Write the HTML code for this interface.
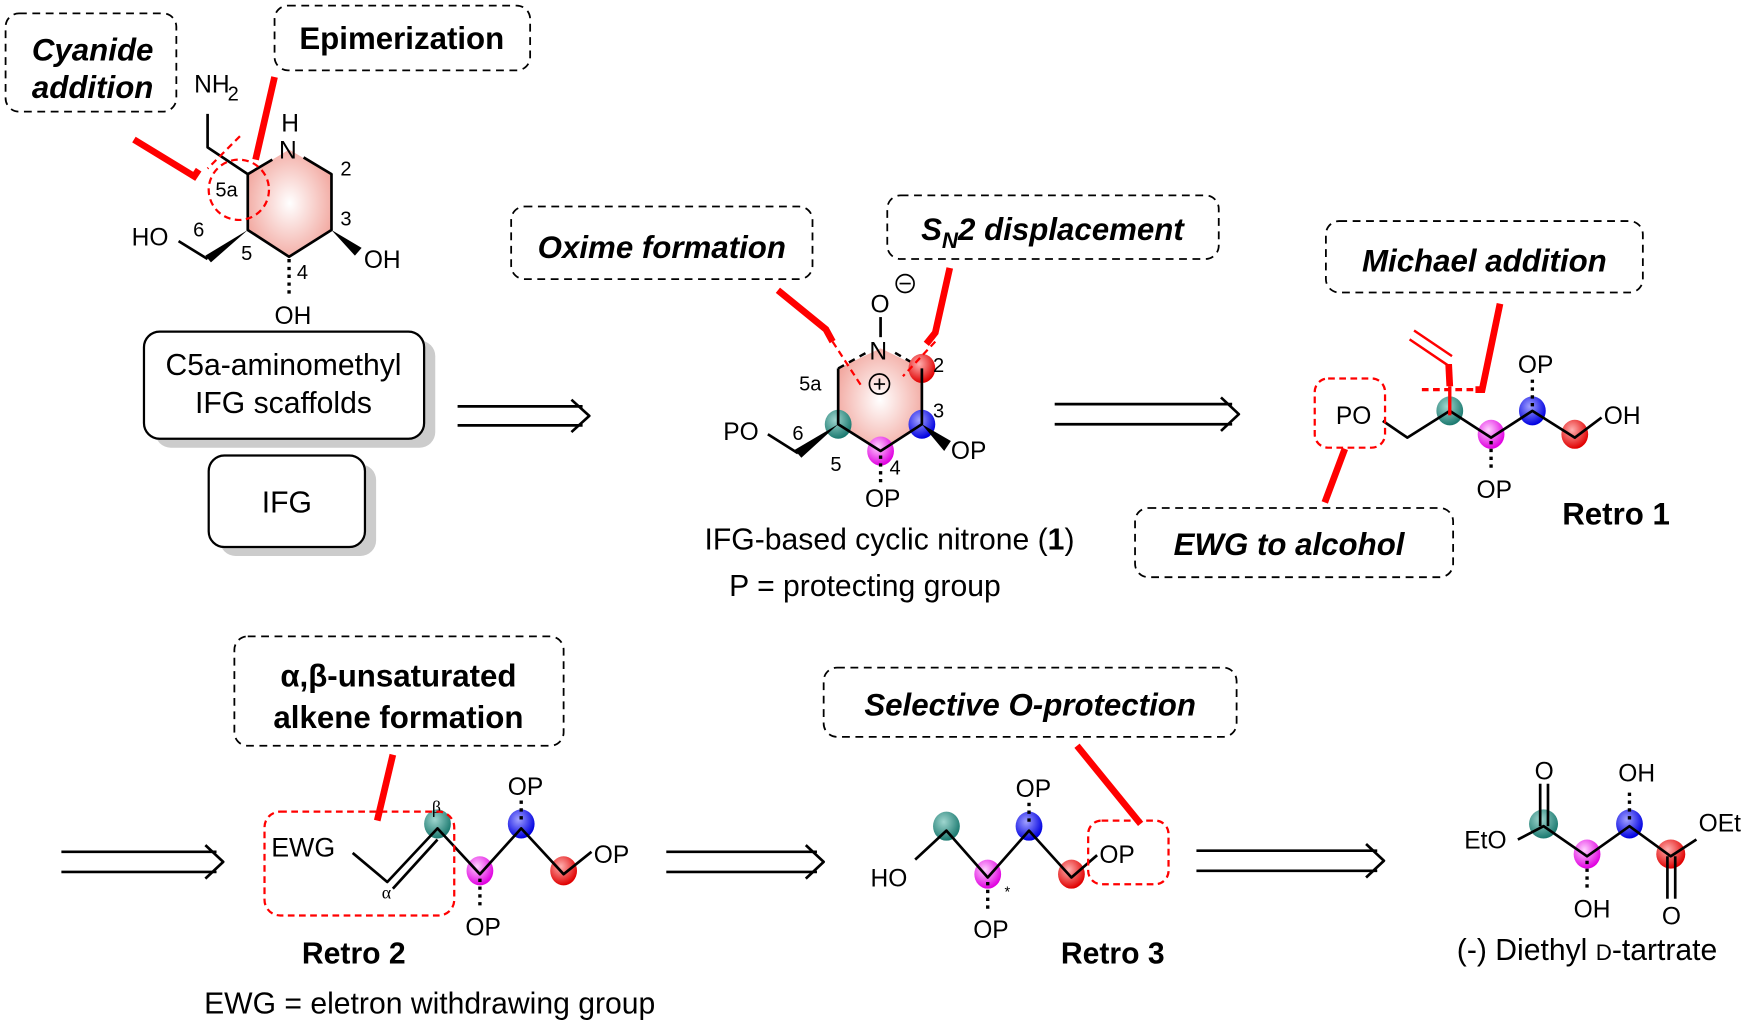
<!DOCTYPE html>
<html><head><meta charset="utf-8"><style>
html,body{margin:0;padding:0;background:#fff}
svg{display:block}
text{font-family:"Liberation Sans",Arial,sans-serif;fill:#000}
.bi{font-weight:bold;font-style:italic;font-size:28px}
.b{font-weight:bold;font-size:28px}
.lab{font-size:22px}
.num{font-size:18px}
.cap{font-size:27px}
.db{fill:none;stroke:#000;stroke-width:1.6;stroke-dasharray:7 5}
.rd{fill:none;stroke:#f00;stroke-width:2;stroke-dasharray:6 4}
.rl{fill:none;stroke:#f00;stroke-width:6}
.bd{fill:none;stroke:#000;stroke-width:2.4;stroke-linejoin:round}
.hash{stroke:#000;stroke-width:3;stroke-dasharray:3 4;fill:none}
</style></head><body>
<svg width="1750" height="1026" viewBox="0 0 1568 919" preserveAspectRatio="none" xmlns="http://www.w3.org/2000/svg">
<defs>
<radialGradient id="ring" cx="50%" cy="50%" r="55%"><stop offset="0" stop-color="#fff"/><stop offset="1" stop-color="#f2a8a0"/></radialGradient>
<radialGradient id="gt" cx="40%" cy="35%" r="65%"><stop offset="0" stop-color="#9fd6cf"/><stop offset="1" stop-color="#1c7a70"/></radialGradient>
<radialGradient id="gm" cx="40%" cy="35%" r="65%"><stop offset="0" stop-color="#ffd0ff"/><stop offset="1" stop-color="#e000e0"/></radialGradient>
<radialGradient id="gb" cx="40%" cy="35%" r="65%"><stop offset="0" stop-color="#a0a0ff"/><stop offset="1" stop-color="#0000e0"/></radialGradient>
<radialGradient id="gr" cx="40%" cy="35%" r="65%"><stop offset="0" stop-color="#ffb0b0"/><stop offset="1" stop-color="#e00000"/></radialGradient>
</defs>

<!-- ===== IFG top-left ===== -->
<rect x="5" y="12" width="153" height="88" rx="12" class="db"/>
<text x="83" y="54" text-anchor="middle" class="bi">Cyanide</text>
<text x="83" y="88" text-anchor="middle" class="bi">addition</text>
<rect x="246" y="5" width="229" height="58" rx="12" class="db"/>
<text x="360" y="44" text-anchor="middle" class="b">Epimerization</text>

<polygon points="222,156 259,134 297,156 297,206 259,230 222,206" fill="url(#ring)"/>
<polyline class="bd" points="244,143 222,156 222,206 259,230 297,206 297,156 272,141"/>
<polyline class="bd" points="222,156 186,132 186,102"/>
<text x="174" y="83" class="lab">NH</text><text x="204" y="90" class="num">2</text>
<text x="252" y="118" class="lab">H</text>
<text x="250" y="142" class="lab">N</text>
<text x="305" y="157" class="num">2</text>
<text x="305" y="202" class="num">3</text>
<text x="266" y="250" class="num">4</text>
<text x="216" y="233" class="num">5</text>
<text x="193" y="176" class="num">5a</text>
<text x="173" y="212" class="num">6</text>
<polygon points="222,206 184,229 189,235" fill="#000"/>
<line x1="186" y1="232" x2="160" y2="216" class="bd"/>
<text x="118" y="220" class="lab">HO</text>
<polygon points="297,206 318,229 324,222" fill="#000"/>
<text x="326" y="240" class="lab">OH</text>
<line x1="259" y1="232" x2="259" y2="264" class="hash"/>
<text x="246" y="290" class="lab">OH</text>
<circle cx="214" cy="170" r="27" class="rd"/>
<line x1="215" y1="122" x2="186" y2="151" class="rd"/>
<polyline class="rl" points="120,125 174,158 178,152"/>
<line x1="246" y1="69" x2="229" y2="143" class="rl"/>

<rect x="139" y="305" width="251" height="96" rx="14" fill="#ccc"/>
<rect x="129" y="297" width="251" height="96" rx="14" fill="#fff" stroke="#000" stroke-width="2"/>
<text x="254" y="336" text-anchor="middle" class="cap">C5a-aminomethyl</text>
<text x="254" y="370" text-anchor="middle" class="cap">IFG scaffolds</text>

<rect x="197" y="416" width="140" height="82" rx="14" fill="#ccc"/>
<rect x="187" y="408" width="140" height="82" rx="14" fill="#fff" stroke="#000" stroke-width="2"/>
<text x="257" y="459" text-anchor="middle" class="cap">IFG</text>

<!-- arrow 1 -->
<g class="bd"><line x1="410" y1="364" x2="522" y2="364"/><line x1="410" y1="381" x2="522" y2="381"/><polyline points="512,358 528,372.5 512,387"/></g>

<!-- ===== Nitrone ===== -->
<rect x="458" y="185" width="270" height="65" rx="12" class="db"/>
<text x="593" y="231" text-anchor="middle" class="bi">Oxime formation</text>
<rect x="795" y="175" width="297" height="57" rx="12" class="db"/>
<text x="943" y="215" text-anchor="middle" class="bi">S<tspan font-size="20" dy="7">N</tspan><tspan dy="-7">2 displacement</tspan></text>

<g transform="translate(0,-36)">
<polygon points="751,366 789,348 826,366 826,416 789,440 751,416" fill="url(#ring)"/>
<polyline points="751,366 776,352" fill="none" stroke="#000" stroke-width="2.2" stroke-dasharray="6 5"/>
<polyline points="802,352 826,366" fill="none" stroke="#000" stroke-width="2.2" stroke-dasharray="6 5"/>
<line x1="789" y1="338" x2="789" y2="320" class="bd"/>
<text x="780" y="316" class="lab">O</text>
<circle cx="811" cy="290" r="8" fill="none" stroke="#000" stroke-width="1.5"/><line x1="806" y1="290" x2="816" y2="290" stroke="#000" stroke-width="1.5"/>
<text x="779" y="358" class="lab">N</text>
<circle cx="788" cy="380" r="9" fill="none" stroke="#000" stroke-width="1.5"/><line x1="783" y1="380" x2="793" y2="380" stroke="#000" stroke-width="1.5"/><line x1="788" y1="375" x2="788" y2="385" stroke="#000" stroke-width="1.5"/>
<ellipse cx="751" cy="416" rx="12" ry="13" fill="url(#gt)"/>
<ellipse cx="789" cy="440" rx="12" ry="13" fill="url(#gm)"/>
<ellipse cx="826" cy="416" rx="12" ry="13" fill="url(#gb)"/>
<ellipse cx="826" cy="366" rx="12" ry="13" fill="url(#gr)"/>
<polyline class="bd" points="751,366 751,416 789,440 826,416 826,366"/>
<text x="716" y="386" class="num">5a</text>
<text x="836" y="369" class="num">2</text>
<text x="836" y="410" class="num">3</text>
<text x="710" y="430" class="num">6</text>
<text x="744" y="458" class="num">5</text>
<text x="797" y="461" class="num">4</text>
<polygon points="751,416 712,439 718,446" fill="#000"/>
<line x1="715" y1="442" x2="688" y2="425" class="bd"/>
<text x="648" y="430" class="lab">PO</text>
<polygon points="826,416 846,440 852,431" fill="#000"/>
<text x="852" y="447" class="lab">OP</text>
<line x1="789" y1="444" x2="789" y2="468" class="hash"/>
<text x="775" y="490" class="lab">OP</text>
<line x1="746" y1="342" x2="772" y2="382" class="rd"/>
<line x1="838" y1="342" x2="809" y2="373" class="rd"/>
</g>
<polyline class="rl" points="697,260 740,295 746,306"/>
<polyline class="rl" points="851,240 838,298 830,308"/>
<text x="797" y="492" text-anchor="middle" class="cap">IFG-based cyclic nitrone (<tspan font-weight="bold">1</tspan>)</text>
<text x="775" y="534" text-anchor="middle" class="cap">P = protecting group</text>

<!-- arrow 2 -->
<g class="bd"><line x1="945" y1="362" x2="1104" y2="362"/><line x1="945" y1="380" x2="1104" y2="380"/><polyline points="1094,356 1110,371 1094,386"/></g>

<!-- ===== Retro 1 ===== -->
<rect x="1188" y="198" width="284" height="64" rx="12" class="db"/>
<text x="1330" y="243" text-anchor="middle" class="bi">Michael addition</text>
<rect x="1017" y="455" width="285" height="62" rx="12" class="db"/>
<text x="1155" y="497" text-anchor="middle" class="bi">EWG to alcohol</text>
<ellipse cx="1299" cy="368" rx="12" ry="13" fill="url(#gt)"/>
<ellipse cx="1336" cy="389" rx="12" ry="13" fill="url(#gm)"/>
<ellipse cx="1373" cy="368" rx="12" ry="13" fill="url(#gb)"/>
<ellipse cx="1411" cy="389" rx="12" ry="13" fill="url(#gr)"/>
<polyline class="bd" points="1239,377 1261,392 1299,368 1336,392 1373,368 1411,392 1435,374"/>
<text x="1197" y="380" class="lab">PO</text>
<text x="1437" y="380" class="lab">OH</text>
<line x1="1373" y1="364" x2="1373" y2="340" class="hash"/>
<text x="1360" y="334" class="lab">OP</text>
<line x1="1336" y1="395" x2="1336" y2="420" class="hash"/>
<text x="1323" y="446" class="lab">OP</text>
<polygon points="1296,346 1302,346 1301,326 1295,326" fill="#f00"/>
<line x1="1299" y1="346" x2="1299" y2="372" stroke="#f00" stroke-width="3"/>
<line x1="1297" y1="327" x2="1263" y2="304" stroke="#f00" stroke-width="2.2"/>
<line x1="1301" y1="319" x2="1267" y2="296" stroke="#f00" stroke-width="2.2"/>
<line x1="1274" y1="349" x2="1325" y2="349" class="rd" style="stroke-width:3"/>
<polyline class="rl" points="1344,272 1328,349 1322,349"/>
<rect x="1178" y="339" width="63" height="62" rx="12" class="rd"/>
<line x1="1205" y1="402" x2="1187" y2="450" class="rl"/>
<text x="1448" y="470" text-anchor="middle" class="b">Retro 1</text>

<!-- arrow 3 -->
<g class="bd"><line x1="55" y1="763" x2="194" y2="763"/><line x1="55" y1="781" x2="194" y2="781"/><polyline points="184,757 200,772 184,787"/></g>

<!-- ===== Retro 2 ===== -->
<rect x="210" y="570" width="295" height="98" rx="12" class="db"/>
<text x="357" y="615" text-anchor="middle" class="b">α,β-unsaturated</text>
<text x="357" y="652" text-anchor="middle" class="b">alkene formation</text>
<line x1="352" y1="676" x2="338" y2="735" class="rl"/>
<ellipse cx="392" cy="738" rx="12" ry="13" fill="url(#gt)"/>
<ellipse cx="430" cy="780" rx="12" ry="13" fill="url(#gm)"/>
<ellipse cx="467" cy="738" rx="12" ry="13" fill="url(#gb)"/>
<ellipse cx="505" cy="780" rx="12" ry="13" fill="url(#gr)"/>
<polyline class="bd" points="316,764 347,790 392,742 430,783 467,742 505,783 530,763"/>
<line x1="352" y1="796" x2="392" y2="752" class="bd"/>
<text x="243" y="767" class="lab" style="font-size:24px">EWG</text>
<text x="342" y="805" style="font-size:16px;font-family:'Liberation Serif',serif">α</text>
<text x="387" y="728" style="font-size:16px;font-family:'Liberation Serif',serif">β</text>
<line x1="467" y1="734" x2="467" y2="716" class="hash"/>
<text x="455" y="712" class="lab">OP</text>
<line x1="430" y1="787" x2="430" y2="812" class="hash"/>
<text x="417" y="838" class="lab">OP</text>
<text x="532" y="773" class="lab">OP</text>
<rect x="237" y="727" width="170" height="93" rx="14" class="rd"/>
<text x="317" y="863" text-anchor="middle" class="b" style="font-size:27px">Retro 2</text>
<text x="385" y="908" text-anchor="middle" class="cap">EWG = eletron withdrawing group</text>

<!-- arrow 4 -->
<g class="bd"><line x1="597" y1="763" x2="732" y2="763"/><line x1="597" y1="781" x2="732" y2="781"/><polyline points="722,757 738,772 722,787"/></g>

<!-- ===== Retro 3 ===== -->
<rect x="738" y="598" width="370" height="62" rx="12" class="db"/>
<text x="923" y="641" text-anchor="middle" class="bi">Selective O-protection</text>
<ellipse cx="848" cy="740" rx="12" ry="13" fill="url(#gt)"/>
<ellipse cx="885" cy="783" rx="12" ry="13" fill="url(#gm)"/>
<ellipse cx="922" cy="740" rx="12" ry="13" fill="url(#gb)"/>
<ellipse cx="960" cy="783" rx="12" ry="13" fill="url(#gr)"/>
<polyline class="bd" points="820,770 848,744 885,786 922,744 960,786 983,766"/>
<text x="780" y="794" class="lab">HO</text>
<text x="985" y="773" class="lab">OP</text>
<line x1="922" y1="736" x2="922" y2="718" class="hash"/>
<text x="910" y="714" class="lab">OP</text>
<line x1="885" y1="790" x2="885" y2="814" class="hash"/>
<text x="872" y="840" class="lab">OP</text>
<text x="900" y="803" style="font-size:13px">*</text>
<rect x="975" y="735" width="72" height="57" rx="12" class="rd"/>
<line x1="965" y1="668" x2="1022" y2="738" class="rl"/>
<text x="997" y="863" text-anchor="middle" class="b" style="font-size:27px">Retro 3</text>

<!-- arrow 5 -->
<g class="bd"><line x1="1072" y1="762" x2="1234" y2="762"/><line x1="1072" y1="780" x2="1234" y2="780"/><polyline points="1224,756 1240,771 1224,786"/></g>

<!-- ===== Tartrate ===== -->
<ellipse cx="1383" cy="738" rx="13" ry="13" fill="url(#gt)"/>
<ellipse cx="1422" cy="765" rx="12" ry="13" fill="url(#gm)"/>
<ellipse cx="1460" cy="738" rx="12" ry="13" fill="url(#gb)"/>
<ellipse cx="1497" cy="765" rx="13" ry="13" fill="url(#gr)"/>
<polyline class="bd" points="1360,752 1383,740 1422,767 1460,740 1497,767 1520,752"/>
<line x1="1380" y1="740" x2="1380" y2="702" class="bd"/><line x1="1387" y1="740" x2="1387" y2="702" class="bd"/>
<line x1="1494" y1="767" x2="1494" y2="805" class="bd"/><line x1="1501" y1="767" x2="1501" y2="805" class="bd"/>
<text x="1375" y="698" class="lab">O</text>
<text x="1489" y="828" class="lab">O</text>
<text x="1312" y="760" class="lab">EtO</text>
<text x="1522" y="745" class="lab">OEt</text>
<line x1="1460" y1="734" x2="1460" y2="706" class="hash"/>
<text x="1450" y="700" class="lab">OH</text>
<line x1="1422" y1="771" x2="1422" y2="798" class="hash"/>
<text x="1410" y="822" class="lab">OH</text>
<text x="1422" y="860" text-anchor="middle" class="cap">(-) Diethyl <tspan font-size="20">D</tspan>-tartrate</text>
</svg>
</body></html>
